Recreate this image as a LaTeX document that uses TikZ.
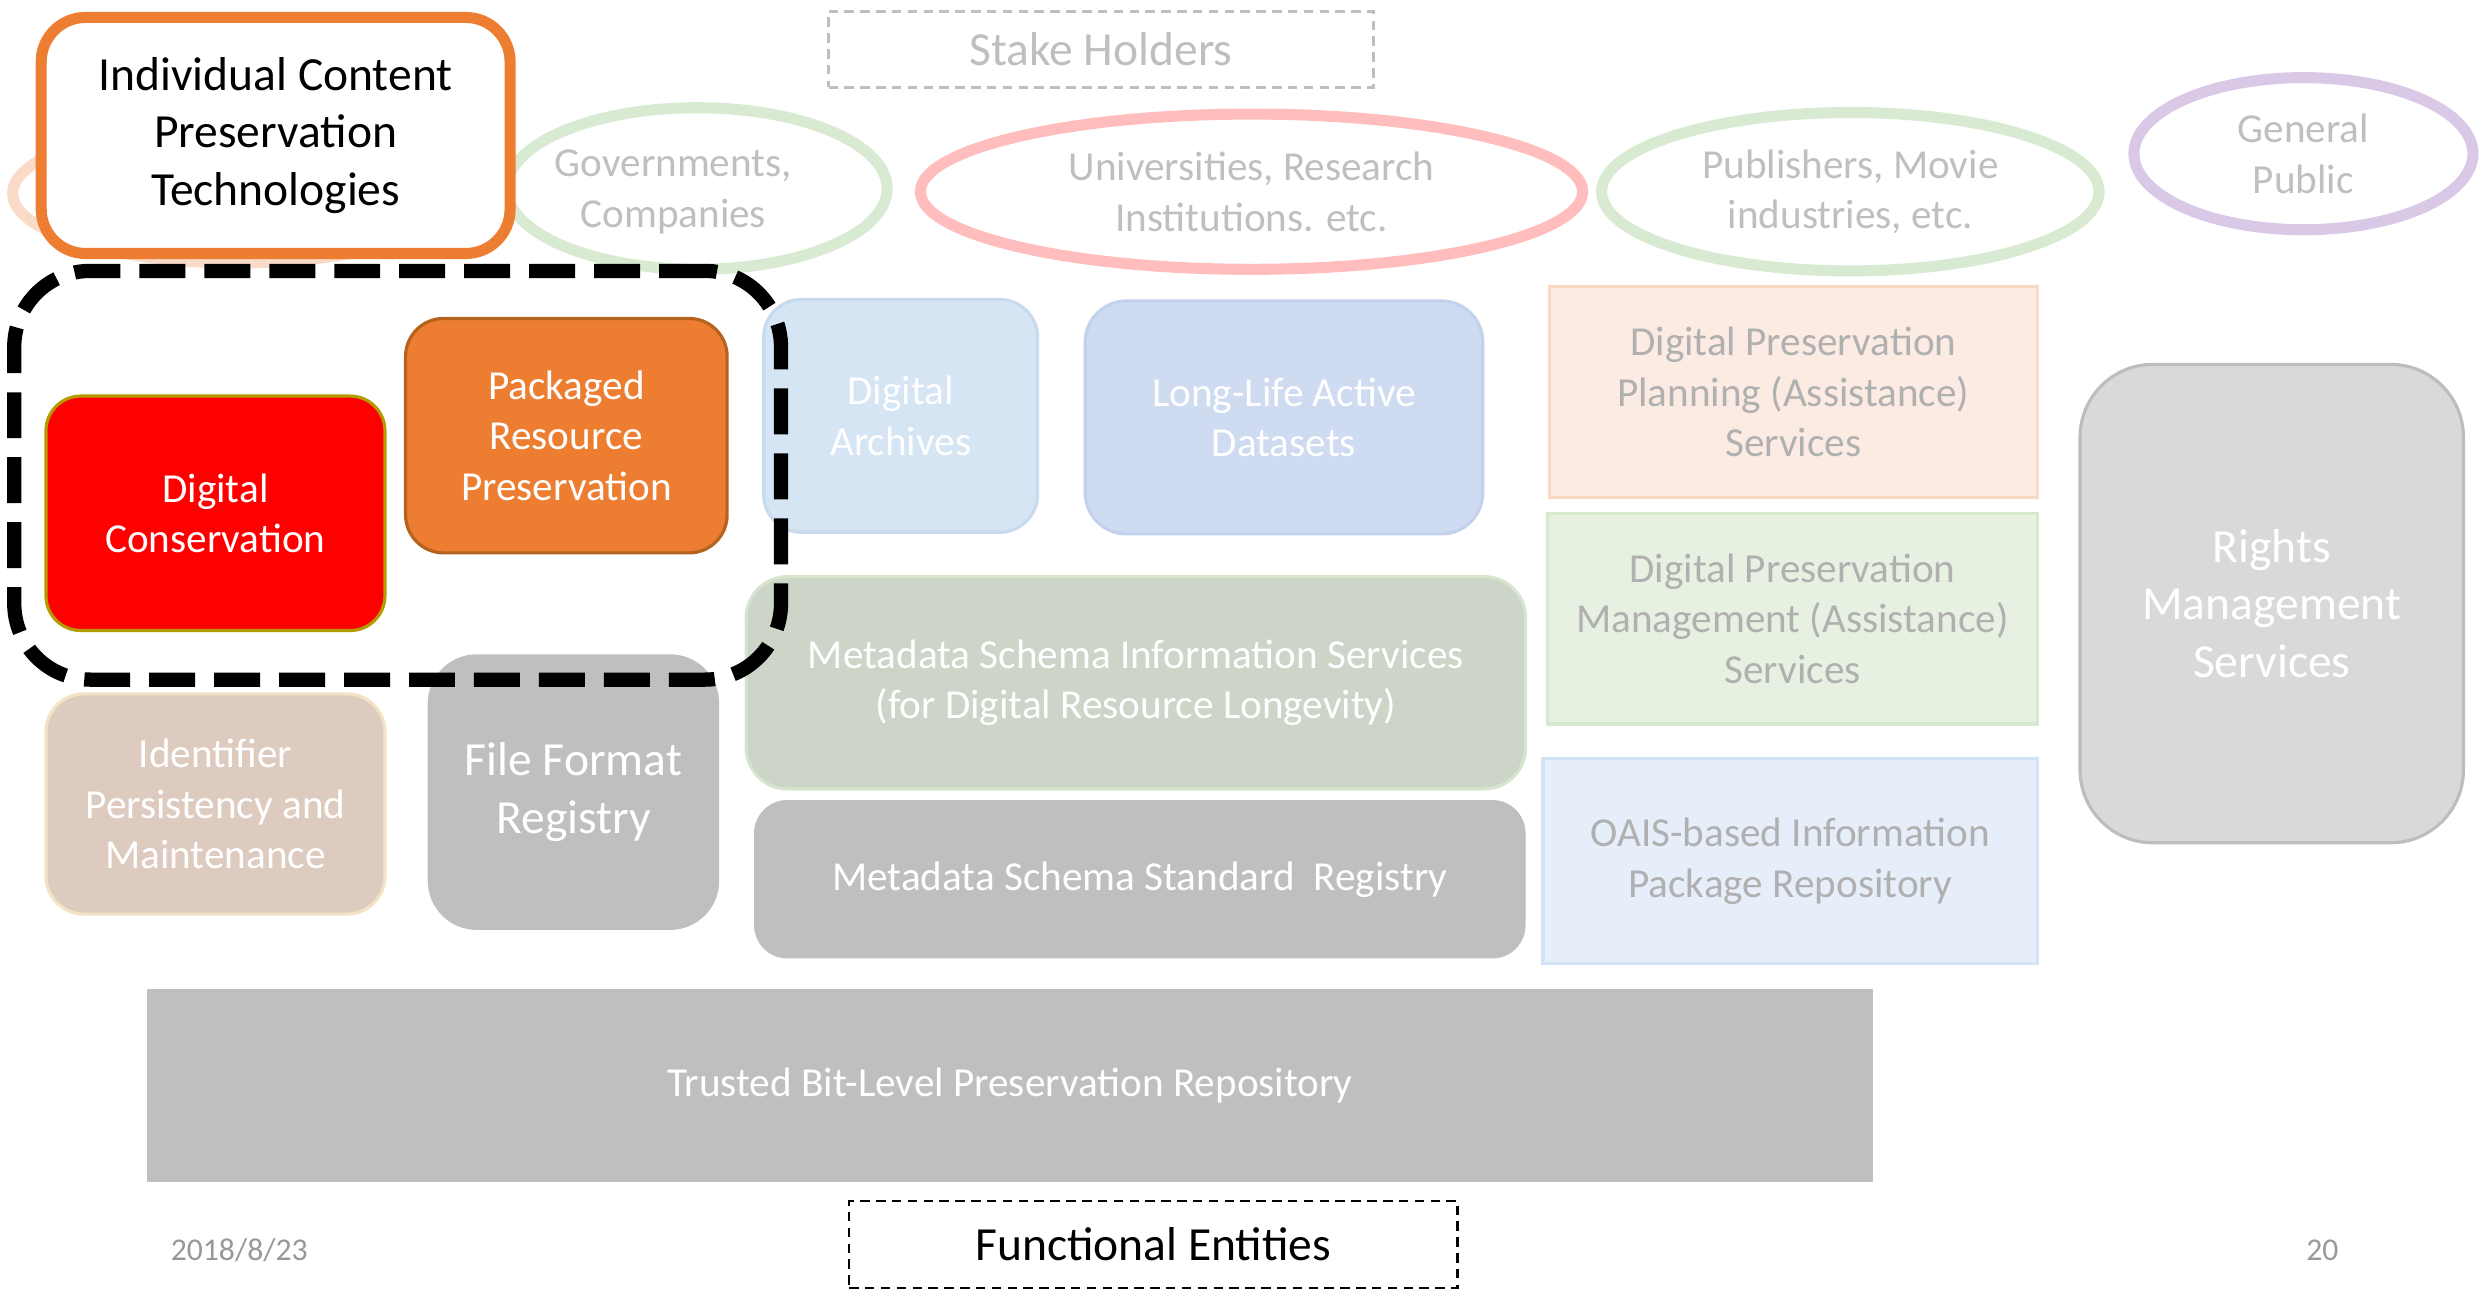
\documentclass[tikz,border=0pt]{standalone}
\usepackage{fontspec}
\setmainfont{Carlito}
\usetikzlibrary{shapes.geometric}
\definecolor{corange}{HTML}{ED7D31}
\definecolor{corangedk}{HTML}{B5621F}
\definecolor{cpeach}{HTML}{FADBC8}
\definecolor{cgreen}{HTML}{D9EAD3}
\definecolor{cpink}{HTML}{FFBDBD}
\definecolor{cpurple}{HTML}{D9C9E7}
\definecolor{cgraytxt}{HTML}{BFBFBF}
\definecolor{cboxtxt}{HTML}{B0B0B0}
\definecolor{cdate}{HTML}{989898}
\definecolor{cred}{HTML}{FF0000}
\definecolor{credbd}{HTML}{B59A00}
\definecolor{carch}{HTML}{D5E5F4}
\definecolor{carchbd}{HTML}{C8DBEE}
\definecolor{clong}{HTML}{CEDBF0}
\definecolor{clongbd}{HTML}{C2D2EC}
\definecolor{cplan}{HTML}{FCEBE3}
\definecolor{cplanbd}{HTML}{F9D8C6}
\definecolor{cmgmt}{HTML}{E7F1E1}
\definecolor{cmgmtbd}{HTML}{D6E9CD}
\definecolor{coais}{HTML}{E6EEF9}
\definecolor{coaisbd}{HTML}{D3E2F5}
\definecolor{crights}{HTML}{D9D9D9}
\definecolor{crightsbd}{HTML}{BDBDBD}
\definecolor{cmeta}{HTML}{CCD5C8}
\definecolor{cmetabd}{HTML}{D6E6CE}
\definecolor{cgrey}{HTML}{BFBFBF}
\definecolor{cident}{HTML}{DECBBF}
\definecolor{cidentbd}{HTML}{F1E3C6}
\begin{document}
\begin{tikzpicture}[x=0.5pt,y=-0.5pt,
  fsA/.style={font=\fontsize{13}{16}\selectfont},
  fsB/.style={font=\fontsize{15}{18.2}\selectfont},
  box/.style={rectangle, inner sep=0pt, align=center, line width=1pt},
  area/.style n args={4}{minimum width={(#3-#1)*0.5pt}, minimum height={(#4-#2)*0.5pt},
     at={({(#1+#3)/2},{(#2+#4)/2})}},
  ell/.style={ellipse, inner sep=0pt, line width=3.5pt, align=center},
  whitetxt/.style={text=white},
  greytxt/.style={text=cboxtxt},
]
\useasboundingbox (0,0) rectangle (1568,815);

% stakeholder ellipses
\node[ell, draw=cpeach, minimum width=142pt, minimum height=44pt] (peach) at (150,122) {};
\node[ell, draw=cgreen, minimum width=120pt, minimum height=51pt] (gov) at (440,119) {};
\node[text=cgraytxt, fsA, align=center] (govtxt) at (425,121) {Governments,\\Companies};
\node[ell, draw=cpink, minimum width=209pt, minimum height=49pt, text=cgraytxt, fsA] (univ) at (790,121) {Universities, Research\\Institutions. etc.};
\node[ell, draw=cgreen, minimum width=157pt, minimum height=50pt, text=cgraytxt, fsA] (publ) at (1168,121) {Publishers, Movie\\industries, etc.};
\node[ell, draw=cpurple, minimum width=107pt, minimum height=48pt, text=cgraytxt, fsA] (genpub) at (1454,97) {General\\Public};

% Individual content box
\node[box, area={26}{11}{322}{160}, draw=corange, line width=3.5pt, rounded corners=14pt, fill=white, fsB] (ind) {Individual Content\\Preservation\\Technologies};

% Stake holders label
\node[box, area={523}{7}{867}{55}, draw=cgraytxt, line width=0.9pt, dash pattern=on 3pt off 2pt, text=cgraytxt, fsB] (stake) {Stake Holders};

% functional entity boxes
\node[box, area={29}{250}{243}{398}, fill=cred, draw=credbd, rounded corners=11pt, whitetxt, fsA] (dcons) {Digital\\Conservation};
\node[box, area={256}{201}{459}{349}, fill=corange, draw=corangedk, rounded corners=12pt, whitetxt, fsA] (pack) {Packaged\\Resource\\Preservation};
\node[box, area={482}{189}{655}{336}, fill=carch, draw=carchbd, rounded corners=12pt, whitetxt, fsA] (arch) {Digital\\Archives};
\node[box, area={685}{190}{936}{337}, fill=clong, draw=clongbd, rounded corners=13pt, whitetxt, fsA] (long) {Long-Life Active\\Datasets};
\node[box, area={978}{181}{1286}{314}, fill=cplan, draw=cplanbd, greytxt, fsA] (plan) {Digital Preservation\\Planning (Assistance)\\Services};
\node[box, area={977}{324}{1286}{457}, fill=cmgmt, draw=cmgmtbd, greytxt, fsA] (mgmt) {Digital Preservation\\Management (Assistance)\\Services};
\node[box, area={974}{479}{1286}{608}, fill=coais, draw=coaisbd, greytxt, fsA] (oais) {OAIS-based Information\\Package Repository};
\node[box, area={1313}{230}{1555}{532}, fill=crights, draw=crightsbd, rounded corners=23pt, whitetxt, fsB] (rights) {Rights\\Management\\Services};
\node[box, area={471}{364}{963}{498}, fill=cmeta, draw=cmetabd, rounded corners=13pt, whitetxt, fsA] (metainfo) {Metadata Schema Information Services\\(for Digital Resource Longevity)};
\node[box, area={477}{506}{962}{604}, fill=cgrey, draw=cgrey, rounded corners=10pt, whitetxt, fsA] (metastd) {Metadata Schema Standard\ \ Registry};
\node[box, area={29}{438}{243}{577}, fill=cident, draw=cidentbd, rounded corners=12pt, whitetxt, fsA] (ident) {Identifier\\Persistency and\\Maintenance};
\node[box, area={271}{414}{453}{586}, fill=cgrey, draw=cgrey, rounded corners=15pt, whitetxt, fsB] (ffr) {File Format\\Registry};
\node[box, area={94}{625}{1181}{745}, fill=cgrey, draw=cgrey, whitetxt, fsA] (trusted) {Trusted Bit-Level Preservation Repository};

% dashed grouping
\node[box, area={9}{171}{493}{429}, draw=black, line width=4.5pt, dash pattern=on 14.5pt off 6pt, rounded corners=24pt] (group) {};

% footer
\node[box, area={536}{758}{920}{813}, draw=black, line width=0.8pt, dash pattern=on 3pt off 2pt, fsB] (func) {Functional Entities};
\node[text=cdate, font=\fontsize{10}{12}\selectfont] (date) at (151,789) {2018/8/23};
\node[text=cdate, font=\fontsize{10}{12}\selectfont] (page) at (1466,789) {20};
\end{tikzpicture}
\end{document}
